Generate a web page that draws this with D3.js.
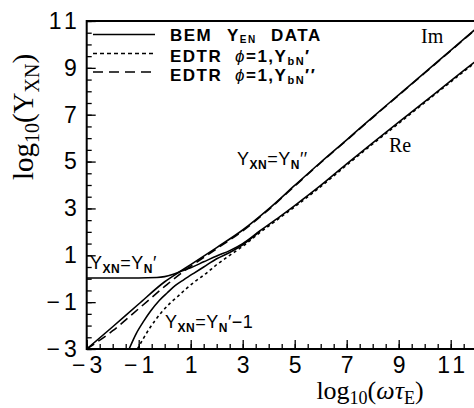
<!DOCTYPE html>
<html>
<head>
<meta charset="utf-8">
<script src="https://cdn.jsdelivr.net/npm/d3@7"></script>
<style>
  body { margin: 0; background: #fff; }
  .tick text { font-family: "Liberation Sans", Arial, sans-serif; font-size: 23px; letter-spacing: 4px; fill: #000; }
</style>
</head>
<body>
<div id="chart"></div>
<script>
// Values: x = log10(w tau_E), y = log10(Y_XN)
// BEM data, imaginary part (Y_XN = Y_N'')
var imX = [-3, -2, -1, 0, 0.65, 1, 2, 3, 4, 5, 6, 7, 8, 9, 10, 11, 12];
var imY = [-3, -2.05, -1.08, -0.13, 0.35, 0.6, 1.33, 2.08, 2.98, 3.98, 4.97, 5.93, 6.9, 7.85, 8.8, 9.75, 10.7];
// BEM data, real part (Y_XN = Y_N')
var reX = [-3, -1, -0.3, 0, 0.3, 0.65, 1, 1.5, 2, 2.5, 3, 3.67, 4.43, 5, 6, 7, 8, 9, 10, 11, 12];
var reY = [0.03, 0.03, 0.05, 0.09, 0.18, 0.33, 0.47, 0.72, 0.97, 1.2, 1.5, 2.05, 2.65, 3.12, 3.98, 4.9, 5.8, 6.68, 7.56, 8.44, 9.32];
// BEM data, Y_XN = Y_N' - 1
var nm1X = [-1.37, -1.1, -0.8, -0.54, -0.2, 0.1, 0.4, 0.74, 1.1, 1.5, 2, 2.5, 3, 3.67];
var nm1Y = [-3, -2.35, -1.8, -1.38, -0.92, -0.6, -0.3, -0.04, 0.22, 0.5, 0.85, 1.12, 1.45, 2.03];
// EDTR phi=1, Y_bN' (dotted)
var dotX = [-1.05, -0.6, -0.15, 0.2, 0.49, 0.8, 1.13, 1.62, 2, 2.5, 3, 3.67, 4.43, 5, 6, 7, 8, 9, 10, 11, 12];
var dotY = [-3, -2.15, -1.47, -1.05, -0.77, -0.45, -0.15, 0.25, 0.6, 1.0, 1.38, 1.98, 2.6, 3.07, 3.93, 4.85, 5.75, 6.63, 7.52, 8.4, 9.28];
// EDTR phi=1, Y_bN'' (dashed)
var dashX = [-3, -2, -1, 0, 0.65, 1, 2, 3, 4, 5, 6, 7, 8, 9, 10, 11, 12];
var dashY = [-3, -2.22, -1.28, -0.33, 0.25, 0.53, 1.28, 2.04, 2.95, 3.95, 4.95, 5.91, 6.88, 7.83, 8.78, 9.73, 10.68];

// axis ticks
var majorTicks = [-3, -1, 1, 3, 5, 7, 9, 11];
var minorStep = 0.5;

var width = 474, height = 408;
var plot = { left: 86.7, top: 21, right: 476.7, bottom: 349 };

var svg = d3.select("#chart")
    .append("svg")
    .attr("width", width)
    .attr("height", height);

var x = d3.scaleLinear().domain([-3, 12]).range([plot.left, plot.right]);
var y = d3.scaleLinear().domain([-3, 11]).range([plot.bottom, plot.top]);

var minorTicks = d3.range(-3, 12.001, minorStep);
var fmt = d => d < 0 ? "\u2212" + Math.abs(d) : d;

// x axis: minor then major ticks (inward)
svg.append("g")
    .attr("transform", "translate(0," + plot.bottom + ")")
    .call(d3.axisBottom(x).tickValues(minorTicks).tickSize(-5).tickFormat(""))
    .call(g => g.select(".domain").remove());
svg.append("g")
    .attr("transform", "translate(0," + plot.bottom + ")")
    .call(d3.axisBottom(x).tickValues(majorTicks).tickSize(-9).tickPadding(8).tickFormat(fmt))
    .call(g => g.select(".domain").remove())
    .selectAll("text").attr("dx", "2px");

// y axis
svg.append("g")
    .attr("transform", "translate(" + plot.left + ",0)")
    .call(d3.axisLeft(y).tickValues(d3.range(-3, 11.001, minorStep)).tickSize(-5).tickFormat(""))
    .call(g => g.select(".domain").remove());
svg.append("g")
    .attr("transform", "translate(" + plot.left + ",0)")
    .call(d3.axisLeft(y).tickValues(majorTicks).tickSize(-9).tickPadding(6).tickFormat(fmt))
    .call(g => g.select(".domain").remove());

svg.selectAll(".tick line").attr("stroke", "#000").attr("stroke-width", 1.3);

// frame (left, top, bottom)
svg.append("path")
    .attr("d", "M" + width + "," + plot.top + "H" + plot.left + "V" + plot.bottom + "H" + width)
    .attr("fill", "none")
    .attr("stroke", "#000")
    .attr("stroke-width", 2);

// clip for curves
svg.append("defs").append("clipPath").attr("id", "clip")
    .append("rect")
    .attr("x", plot.left).attr("y", plot.top)
    .attr("width", width - plot.left).attr("height", plot.bottom - plot.top);

var line = d3.line()
    .x(d => x(d[0]))
    .y(d => y(d[1]))
    .curve(d3.curveMonotoneX);

var series = [
    { xs: reX, ys: reY, dash: null },
    { xs: imX, ys: imY, dash: null },
    { xs: nm1X, ys: nm1Y, dash: null },
    { xs: dotX, ys: dotY, dash: "3,3" },
    { xs: dashX, ys: dashY, dash: "9,5" }
];

svg.append("g").attr("clip-path", "url(#clip)")
    .selectAll("path")
    .data(series)
    .enter().append("path")
    .attr("d", s => line(s.xs.map((v, i) => [v, s.ys[i]])))
    .attr("fill", "none")
    .attr("stroke", "#000")
    .attr("stroke-width", 1.6)
    .attr("stroke-dasharray", s => s.dash);

// legend
var legend = svg.append("g")
    .style("font-family", "'Liberation Sans', Arial, sans-serif")
    .style("font-weight", "bold")
    .style("font-size", "17px")
    .style("letter-spacing", "1.5px");
var legRows = [
    { yy: 34.5, dash: null },
    { yy: 53.5, dash: "4,3" },
    { yy: 72, dash: "10,6" }
];
legend.selectAll("line").data(legRows).enter().append("line")
    .attr("x1", 93).attr("x2", 155)
    .attr("y1", d => d.yy).attr("y2", d => d.yy)
    .attr("stroke", "#000").attr("stroke-width", 1.6)
    .attr("stroke-dasharray", d => d.dash);

var t1 = legend.append("text").attr("x", 170).attr("y", 41);
t1.append("tspan").text("BEM");
t1.append("tspan").attr("x", 227).text("Y");
t1.append("tspan").attr("dy", 2).style("font-size", "10px").text("EN");
t1.append("tspan").attr("x", 271).attr("dy", -2).text("DATA");

["\u2032", "\u2032\u2032"].forEach(function (p, i) {
    var t = legend.append("text").attr("x", 170).attr("y", 62 + i * 19);
    t.append("tspan").text("EDTR");
    t.append("tspan").attr("x", 235).style("font-weight", "normal").style("font-style", "italic").text("\u03d5");
    t.append("tspan").text("=1,Y");
    t.append("tspan").attr("dy", 3).style("font-size", "11px").text("bN");
    t.append("tspan").attr("dy", -3).text(p);
});

// curve annotations
function yLabel(x0, y0, rhs) {
    var t = svg.append("text").attr("x", x0).attr("y", y0)
        .style("font-family", "'Liberation Sans', Arial, sans-serif")
        .style("font-size", "18px")
        .style("letter-spacing", "0.5px");
    t.append("tspan").text("Y");
    t.append("tspan").attr("dy", 4).style("font-size", "12px").style("font-weight", "bold").text("XN");
    t.append("tspan").attr("dy", -4).text("=Y");
    t.append("tspan").attr("dy", 4).style("font-size", "12px").style("font-weight", "bold").text("N");
    t.append("tspan").attr("dy", -4).text(rhs);
}
yLabel(90, 269, "\u2032");
yLabel(237, 165, "\u2032\u2032");
yLabel(165, 328, "\u2032\u22121");

svg.append("text").attr("x", 421).attr("y", 43)
    .style("font-family", "'Liberation Serif', serif").style("font-size", "20px").text("Im");
svg.append("text").attr("x", 389).attr("y", 152)
    .style("font-family", "'Liberation Serif', serif").style("font-size", "20px").text("Re");

// axis titles
var xt = svg.append("text")
    .attr("x", 370).attr("y", 399)
    .attr("text-anchor", "middle")
    .style("font-family", "'Liberation Serif', serif")
    .style("font-size", "26px");
xt.append("tspan").text("log");
xt.append("tspan").attr("dy", 5).style("font-size", "18px").text("10");
xt.append("tspan").attr("dy", -5).text("(");
xt.append("tspan").style("font-style", "italic").text("\u03c9\u03c4");
xt.append("tspan").attr("dy", 5).style("font-size", "18px").text("E");
xt.append("tspan").attr("dy", -5).text(")");

var yt = svg.append("text")
    .attr("transform", "translate(33,117) rotate(-90)")
    .attr("text-anchor", "middle")
    .style("font-family", "'Liberation Serif', serif")
    .style("font-size", "29px");
yt.append("tspan").text("log");
yt.append("tspan").attr("dy", 6).style("font-size", "20px").text("10");
yt.append("tspan").attr("dy", -6).text("(Y");
yt.append("tspan").attr("dy", 6).style("font-size", "20px").text("XN");
yt.append("tspan").attr("dy", -6).text(")");
</script>
</body>
</html>
